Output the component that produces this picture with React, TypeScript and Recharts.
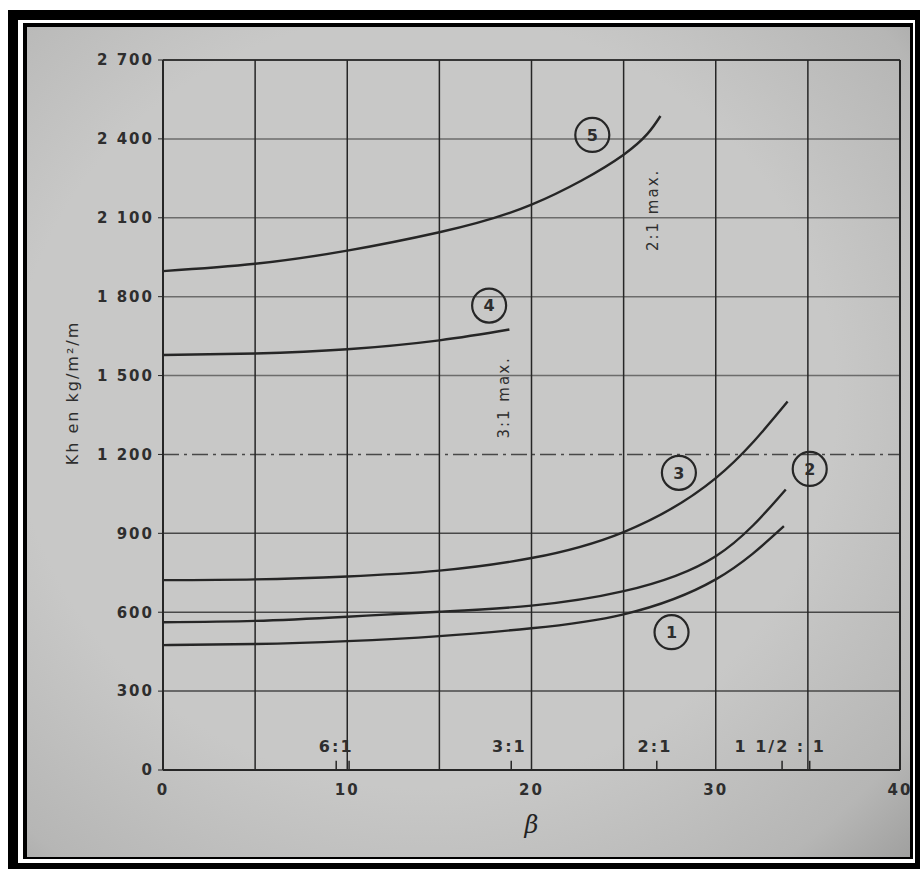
import React from 'react';
import {
  LineChart,
  Line,
  XAxis,
  YAxis,
  ReferenceLine,
  ReferenceDot,
} from 'recharts';

// curve data (beta vs Kh)
const beta1 = [0, 5, 10, 15, 20, 25, 30, 33.7];
const kh1 = [475, 479, 490, 509, 539, 592, 725, 927];

const beta2 = [0, 5, 10, 15, 20, 25, 30, 33.8];
const kh2 = [562, 567, 583, 602, 625, 680, 813, 1067];

const beta3 = [0, 5, 10, 15, 20, 25, 30, 33.9];
const kh3 = [722, 725, 736, 758, 806, 905, 1110, 1401];

const beta4 = [0, 5, 10, 15, 18.8];
const kh4 = [1578, 1584, 1600, 1634, 1675];

const beta5 = [0, 5, 10, 15, 20, 25, 27];
const kh5 = [1897, 1925, 1975, 2045, 2150, 2340, 2487];

const betaTicks = [0, 10, 20, 30, 40];
const khTicks = [0, 300, 600, 900, 1200, 1500, 1800, 2100, 2400, 2700];
const khTickLabels = ['0', '300', '600', '900', '1 200', '1 500', '1 800', '2 100', '2 400', '2 700'];

const gridBetas = [5, 10, 15, 20, 25, 30, 35, 40];
const gridKh = [300, 600, 900, 1200, 1500, 1800, 2100, 2400, 2700];
const dashedKh = [1200];
const paleKh = [1500, 1800, 2100, 2400];

// circled curve numbers
const tagNames = ['1', '2', '3', '4', '5'];
const tagBeta = [27.6, 35.1, 28.0, 17.7, 23.3];
const tagKh = [524, 1145, 1130, 1766, 2415];

// rotated "max." notes
const noteText = ['3:1 max.', '2:1 max.'];
const noteBeta = [18.5, 26.6];
const noteKh = [1417, 2130];

// slope ratios along the bottom
const slopeText = ['6:1', '3:1', '2:1', '1 1/2 : 1'];
const slopeBeta = [9.4, 18.8, 26.7, 33.5];
const slopeKh = [90, 90, 90, 90];
const slopeMarks = [9.4, 10.1, 18.9, 26.8, 33.6, 35.1];

const toRows = (b: number[], k: number[]) => b.map((v, i) => ({ b: v, k: k[i] }));

const curves = [
  toRows(beta1, kh1),
  toRows(beta2, kh2),
  toRows(beta3, kh3),
  toRows(beta4, kh4),
  toRows(beta5, kh5),
];

const ink = '#262626';
const letter = {
  fontFamily: 'DejaVu Sans',
  fontSize: 15,
  fontWeight: 'bold' as const,
  letterSpacing: 2,
  fill: '#2e2e2e',
};

const YTitle = (props: any) => {
  const vb = props.viewBox || { x: 103, y: 60, width: 60, height: 711 };
  const x = vb.x - 31;
  const y = vb.y + vb.height / 2 - 22;
  return (
    <text
      x={x}
      y={y}
      transform={`rotate(-90 ${x} ${y})`}
      textAnchor='middle'
      dominantBaseline='central'
      style={{ ...letter, fontWeight: 'normal', fontSize: 16 }}
    >
      Kh en kg/m²/m
    </text>
  );
};

export default function App() {
  return (
    <div style={{ position: 'absolute', left: 0, top: 0, width: 920, height: 869, background: '#fff' }}>
      {/* photo frame */}
      <div style={{ position: 'absolute', left: 8, top: 10, right: 0, bottom: 0, background: '#000' }} />
      <div style={{ position: 'absolute', left: 18, top: 20, right: 5, bottom: 6, background: '#fff' }} />
      <div style={{ position: 'absolute', left: 23, top: 23, right: 7, bottom: 10, background: '#000' }} />
      <div
        style={{
          position: 'absolute',
          left: 27,
          top: 27,
          right: 10,
          bottom: 12,
          background: 'radial-gradient(ellipse at 45% 45%, #c8c8c7 60%, #b6b6b5 88%, #a0a09f 100%)',
        }}
      />
      <div style={{ position: 'absolute', left: 0, top: 0 }}>
        <LineChart width={920} height={869} margin={{ top: 60, right: 20, bottom: 69, left: 103 }}>
          <XAxis
            type='number'
            dataKey='b'
            domain={[0, 40]}
            ticks={betaTicks}
            allowDataOverflow
            tickLine={false}
            tickMargin={8}
            height={30}
            axisLine={{ stroke: ink, strokeWidth: 2 }}
            tick={letter}
            label={{
              value: 'β',
              position: 'bottom',
              offset: 16,
              style: { fontFamily: 'DejaVu Serif', fontStyle: 'italic', fontSize: 24, fill: '#222' },
            }}
          />
          <YAxis
            type='number'
            dataKey='k'
            domain={[0, 2700]}
            ticks={khTicks}
            allowDataOverflow
            width={60}
            tickSize={5}
            tickMargin={4}
            tickLine={{ stroke: ink }}
            axisLine={{ stroke: ink, strokeWidth: 2 }}
            tick={letter}
            tickFormatter={(v: number) => khTickLabels[khTicks.indexOf(v)]}
            label={<YTitle />}
          />

          {gridKh.map((v) => (
            <ReferenceLine
              key={'h' + v}
              y={v}
              stroke={v === 2700 ? ink : '#3a3a3a'}
              strokeWidth={v === 2700 ? 2 : 1.5}
              strokeOpacity={paleKh.includes(v) ? 0.65 : 0.9}
              strokeDasharray={dashedKh.includes(v) ? '16 5 3 5' : undefined}
            />
          ))}
          {gridBetas.map((v) => (
            <ReferenceLine
              key={'v' + v}
              x={v}
              stroke={ink}
              strokeWidth={v === 40 ? 2 : 1.5}
            />
          ))}
          {slopeMarks.map((v) => (
            <ReferenceLine
              key={'m' + v}
              segment={[
                { x: v, y: 0 },
                { x: v, y: 35 },
              ]}
              stroke={ink}
              strokeWidth={1.5}
            />
          ))}

          {curves.map((rows, i) => (
            <Line
              key={'c' + i}
              data={rows}
              dataKey='k'
              type='natural'
              stroke={ink}
              strokeWidth={2.4}
              dot={false}
              activeDot={false}
              isAnimationActive={false}
            />
          ))}

          {tagNames.map((t, i) => (
            <ReferenceDot
              key={'t' + t}
              x={tagBeta[i]}
              y={tagKh[i]}
              r={17}
              fill='none'
              stroke={ink}
              strokeWidth={2.2}
              label={{ value: t, position: 'center', style: { ...letter, letterSpacing: 0, fontSize: 16 } }}
            />
          ))}
          {noteText.map((t, i) => (
            <ReferenceDot
              key={'n' + i}
              x={noteBeta[i]}
              y={noteKh[i]}
              r={0}
              fill='none'
              stroke='none'
              label={{ value: t, position: 'center', angle: -90, style: { ...letter, fontWeight: 'normal', fontSize: 15 } }}
            />
          ))}
          {slopeText.map((t, i) => (
            <ReferenceDot
              key={'s' + i}
              x={slopeBeta[i]}
              y={slopeKh[i]}
              r={0}
              fill='none'
              stroke='none'
              label={{ value: t, position: 'center', style: { ...letter, fontSize: 16 } }}
            />
          ))}
        </LineChart>
      </div>
    </div>
  );
}
